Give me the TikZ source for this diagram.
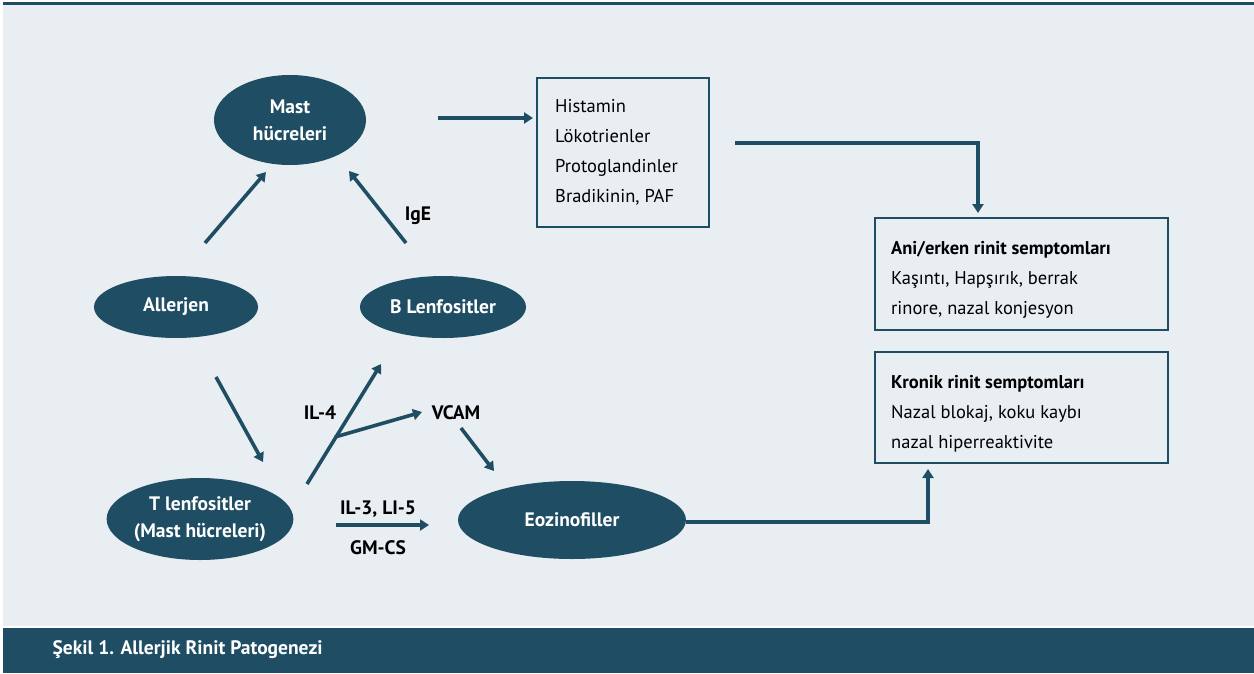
\documentclass[tikz,border=0pt]{standalone}
\usepackage{fontspec}
\setmainfont{PT Sans}
\usetikzlibrary{arrows.meta,shapes.geometric}
\definecolor{dk}{HTML}{1F4E64}
\definecolor{bg}{HTML}{E9EEF2}
\tikzset{
  ell/.style={ellipse,fill=dk,text=white,font=\fontsize{19.5}{27}\selectfont\bfseries,align=center,inner sep=0pt},
  txt/.style={anchor=north west,align=left,font=\fontsize{18.5}{30}\selectfont,inner sep=0pt},
  frame/.style={draw=dk,line width=1.2pt},
  arr/.style={draw=dk,line width=3.6pt,-{Triangle[length=9pt,width=11pt]}},
  lbl/.style={font=\fontsize{19.5}{22}\selectfont\bfseries,text=black}
}
\begin{document}
\begin{tikzpicture}[x=1pt,y=-1pt]
\useasboundingbox (0,0) rectangle (1254,673);
\fill[white] (0,0) rectangle (1254,673);
\fill[bg] (3,5) rectangle (1254,626);
\fill[dk] (3,2) rectangle (1254,4.5);
\fill[dk] (3,628) rectangle (1254,673);
\node[anchor=west,text=white,font=\fontsize{19.5}{22}\selectfont\bfseries] (cap) at (49,650) {Şekil 1. Allerjik Rinit Patogenezi};
% ellipses
\node[ell,minimum width=152,minimum height=90] (mast) at (290,120) {Mast\\hücreleri};
\node[ell,minimum width=164,minimum height=62] (allerjen) at (176,307) {Allerjen};
\node[ell,minimum width=166,minimum height=62] (blenf) at (443,307) {B Lenfositler};
\node[ell,minimum width=162,minimum height=82] (tlenf) at (200,519) {T lenfositler\\(Mast hücreleri)};
\node[ell,minimum width=228,minimum height=78] (eoz) at (572,520) {Eozinofiller};
% boxes
\draw[frame] (537,78) rectangle (709,227);
\node[txt] (med) at (555,99) {Histamin\\Lökotrienler\\Protoglandinler\\Bradikinin, PAF};
\draw[frame] (875,218) rectangle (1168,330);
\node[txt] (ani) at (891,241) {\textbf{Ani/erken rinit semptomları}\\Kaşıntı, Hapşırık, berrak\\rinore, nazal konjesyon};
\draw[frame] (875,352) rectangle (1168,463);
\node[txt] (kron) at (891,375) {\textbf{Kronik rinit semptomları}\\Nazal blokaj, koku kaybı\\nazal hiperreaktivite};
% coordinates
\coordinate (c1) at (438,118); \coordinate (c2) at (533,118);
\coordinate (c3) at (735,143); \coordinate (c4) at (978,143); \coordinate (c5) at (978,213);
\coordinate (c6) at (686,522); \coordinate (c7) at (928,522); \coordinate (c8) at (928,469);
\coordinate (a1) at (205,243); \coordinate (a2) at (266,172);
\coordinate (b1) at (406,243); \coordinate (b2) at (349,171);
\coordinate (t1) at (216,377); \coordinate (t2) at (263,462);
\coordinate (t3) at (307,484); \coordinate (t4) at (381,364);
\coordinate (br) at (335,437); \coordinate (v1) at (422,412);
\coordinate (v2) at (461,428); \coordinate (v3) at (494,471);
\coordinate (g1) at (336,525); \coordinate (g2) at (429,525);
\draw[arr] (c1) -- (c2);
\draw[arr] (c3) -- (c4) -- (c5);
\draw[arr] (c6) -- (c7) -- (c8);
\draw[arr] (a1) -- (a2);
\draw[arr] (b1) -- (b2);
\draw[arr] (t1) -- (t2);
\draw[arr] (t3) -- (t4);
\draw[arr] (br) -- (v1);
\draw[arr] (v2) -- (v3);
\draw[arr] (g1) -- (g2);
% labels
\node[lbl] (ige) at (418,216) {IgE};
\node[lbl] (il4) at (320,413) {IL-4};
\node[lbl] (vcam) at (456,413) {VCAM};
\node[lbl] (il3) at (378,509) {IL-3, LI-5};
\node[lbl] (gm) at (378,548) {GM-CS};
\end{tikzpicture}
\end{document}
